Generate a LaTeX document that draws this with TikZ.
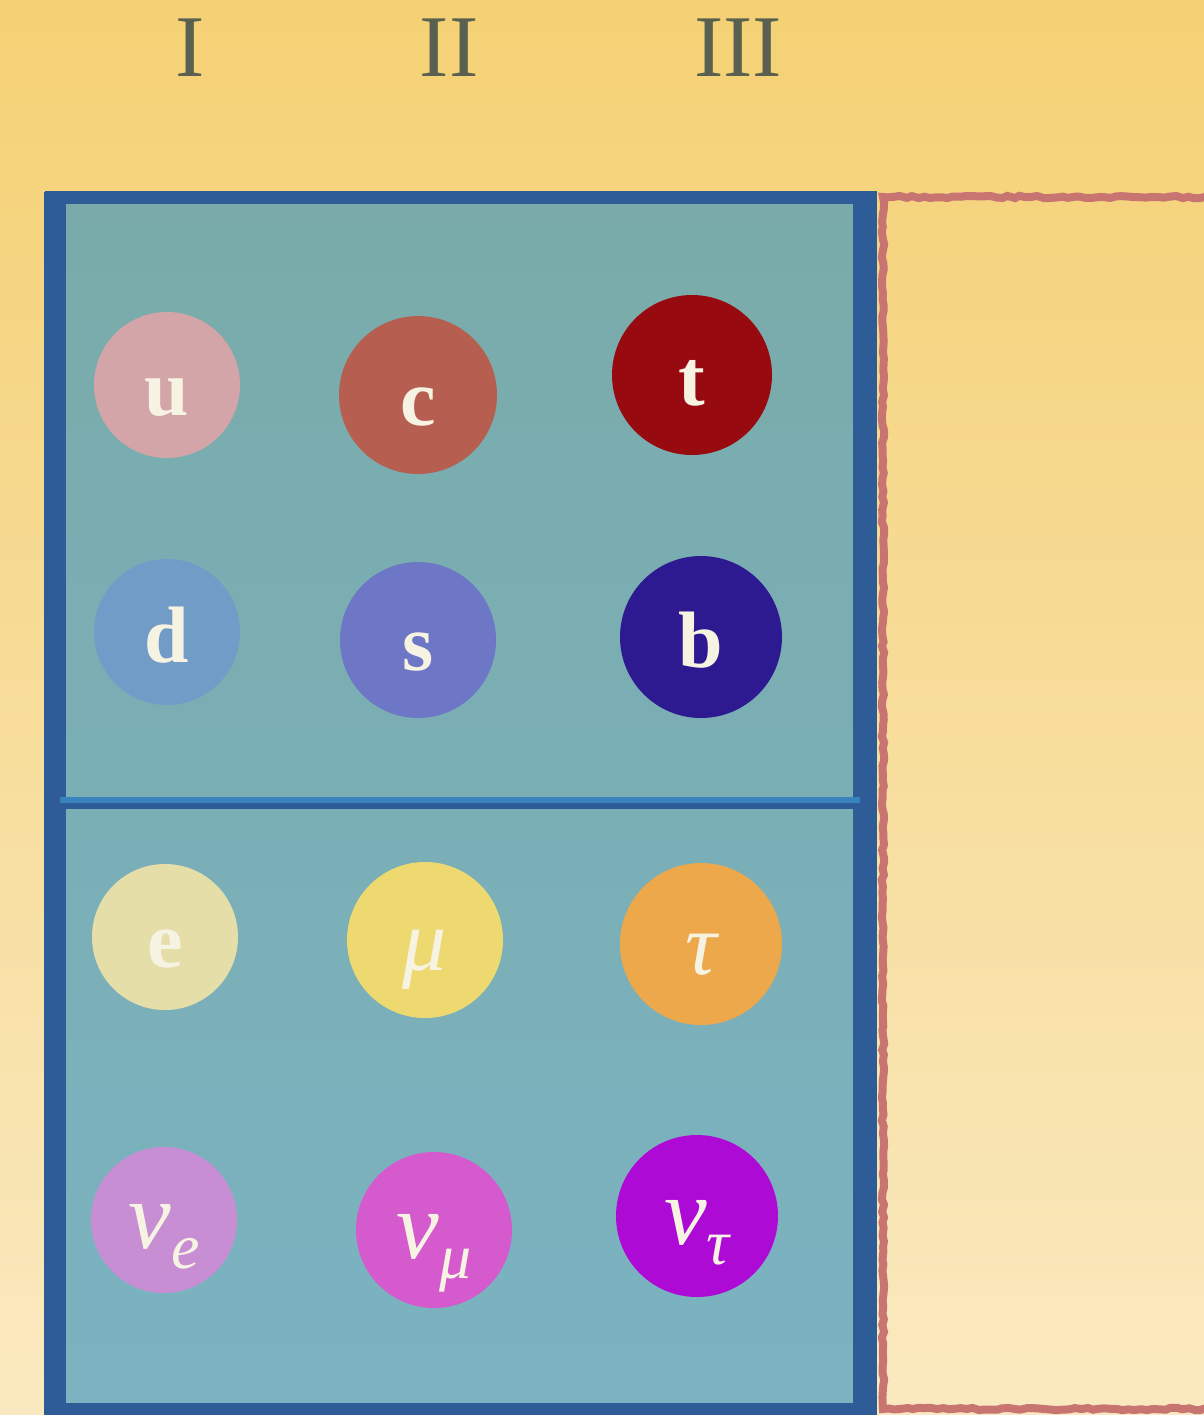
\documentclass[tikz,border=0pt]{standalone}
\usepackage{fontspec}
\setmainfont{Liberation Serif}
\usepackage{xcolor}
\usetikzlibrary{decorations.pathmorphing}
\definecolor{bgtop}{HTML}{F5D174}
\definecolor{bgbot}{HTML}{FAE9C0}
\definecolor{boxtop}{HTML}{7AABAA}
\definecolor{boxbot}{HTML}{7BB3C2}
\definecolor{frame}{HTML}{2E5C97}
\definecolor{divider}{HTML}{3A83BF}
\definecolor{rim}{HTML}{C87572}
\definecolor{numeral}{HTML}{596050}
\definecolor{cream}{HTML}{F7F3E3}
\newcommand{\subidx}[1]{\raisebox{-10pt}{\fontsize{32}{32}\selectfont #1}}

\begin{document}
\begin{tikzpicture}[x=0.5pt,y=-0.5pt,
        gen/.style={text=numeral,font=\fontsize{44}{44}\selectfont},
        particle/.style={circle,inner sep=0pt,text=cream,minimum size=#1,text height=30pt,text depth=0pt},
        quark/.style={font=\bfseries\fontsize{40}{40}\selectfont},
        lepton/.style={font=\itshape\fontsize{44}{44}\selectfont},
        neutrino/.style={font=\itshape\fontsize{48}{48}\selectfont,text height=28pt}]

        \useasboundingbox (0,0) rectangle (1204,1415);
        \shade[top color=bgtop,bottom color=bgbot] (0,0) rectangle (1204,1415);

        \node[gen] (g1) at (190,48) {I};
        \node[gen] (g2) at (449,48) {II};
        \node[gen] (g3) at (738,48) {III};

        \draw[rim,line width=4pt,decorate,decoration={random steps,segment length=3pt,amplitude=0.6pt}]
            (1230,197) -- (883,197) -- (883,1409) -- (1230,1409);

        \shade[top color=boxtop,bottom color=boxbot] (55,197) rectangle (866,1420);
        \draw[frame,line width=6.5pt] (45,197) -- (877,197);
        \draw[frame,line width=6.5pt] (45,1409) -- (877,1409);
        \draw[frame,line width=11pt] (55,192) -- (55,1420);
        \draw[frame,line width=12pt] (865,192) -- (865,1420);
        \draw[divider,line width=3pt] (60,800) -- (860,800);
        \draw[frame,line width=3pt] (60,805.5) -- (860,805.5);

        \node[particle=73pt,fill={rgb,255:red,212;green,165;blue,168},quark] (u) at (167,385) {u};
        \node[particle=79pt,fill={rgb,255:red,182;green,94;blue,80},quark] (c) at (418,395) {c};
        \node[particle=80pt,fill={rgb,255:red,151;green,10;blue,16},quark] (t) at (692,375) {t};
        \node[particle=73pt,fill={rgb,255:red,114;green,156;blue,200},quark] (d) at (167,632) {d};
        \node[particle=78pt,fill={rgb,255:red,110;green,118;blue,198},quark] (s) at (418,640) {s};
        \node[particle=81pt,fill={rgb,255:red,46;green,26;blue,144},quark] (b) at (701,637) {b};

        \node[particle=73pt,fill={rgb,255:red,229;green,222;blue,168},quark] (e) at (165,937) {e};
        \node[particle=78pt,fill={rgb,255:red,238;green,217;blue,112},lepton] (mu) at (425,940) {μ};
        \node[particle=81pt,fill={rgb,255:red,236;green,168;blue,74},lepton] (tau) at (701,944) {τ};
        \node[particle=73pt,fill={rgb,255:red,199;green,142;blue,211},neutrino] (nue) at (164,1220) {ν\subidx{e}};
        \node[particle=78pt,fill={rgb,255:red,212;green,90;blue,205},neutrino] (numu) at (434,1230) {ν\subidx{μ}};
        \node[particle=81pt,fill={rgb,255:red,174;green,10;blue,214},neutrino] (nutau) at (697,1216) {ν\subidx{τ}};

\end{tikzpicture}
\end{document}
